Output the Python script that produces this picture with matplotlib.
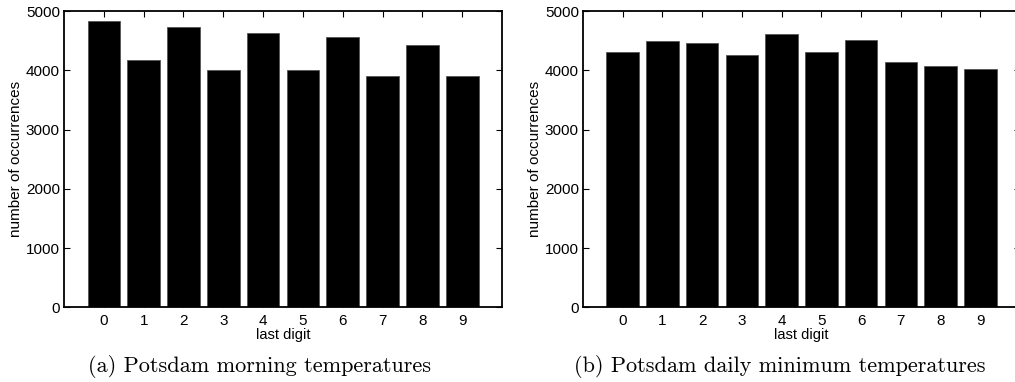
import matplotlib
matplotlib.use("Agg")
import matplotlib.pyplot as plt

# 读取的数据（从图上估计）
digits = [0, 1, 2, 3, 4, 5, 6, 7, 8, 9]
morning_counts = [4830, 4168, 4735, 4010, 4634, 3999, 4556, 3898, 4421, 3895]
minimum_counts = [4303, 4499, 4465, 4252, 4607, 4313, 4516, 4134, 4067, 4016]
captions = ["(a) Potsdam morning temperatures",
            "(b) Potsdam daily minimum temperatures"]

plt.rcParams['font.family'] = ['Liberation Sans', 'DejaVu Sans']

fig = plt.figure(figsize=(10.15, 3.82), dpi=100)
positions = [[0.0631, 0.1955, 0.4315, 0.7757],
             [0.5744, 0.1955, 0.4305, 0.7757]]
caption_x = [0.256, 0.768]

for pos, counts, cap, cx in zip(positions, [morning_counts, minimum_counts], captions, caption_x):
    ax = fig.add_axes(pos)
    ax.bar(digits, counts, width=0.82, color="black", edgecolor="#555555", linewidth=0.6)
    ax.set_xlim(-1, 10)
    ax.set_ylim(0, 5000)
    ax.set_xticks(digits)
    ax.set_yticks([0, 1000, 2000, 3000, 4000, 5000])
    ax.tick_params(direction="in", top=True, right=True, length=4, width=0.8, labelsize=11)
    ax.tick_params(axis="x", pad=5)
    ax.tick_params(axis="y", pad=3)
    for s in ax.spines.values():
        s.set_linewidth(1.3)
    ax.set_xlabel("last digit", fontsize=10.5, labelpad=0)
    ax.set_ylabel("number of occurrences", fontsize=11, labelpad=2)
    fig.text(cx, 1 - 366 / 382, cap, ha="center", va="center",
             family="cmr10", fontsize=16)

fig.savefig("out.png", dpi=100)
